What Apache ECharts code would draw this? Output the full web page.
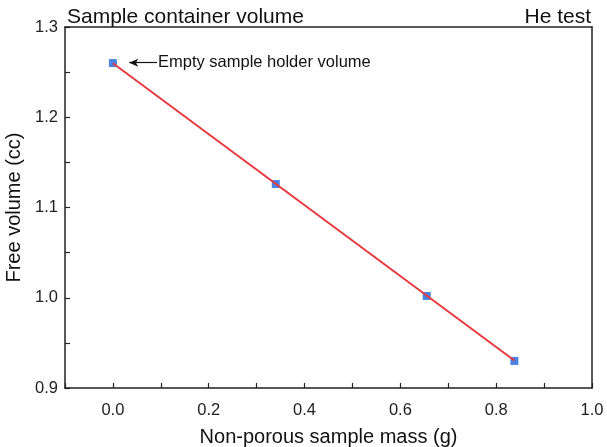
<!DOCTYPE html>
<html><head><meta charset="utf-8">
<script src="https://cdn.jsdelivr.net/npm/echarts@6/dist/echarts.min.js"></script>
<style>html,body{margin:0;padding:0;background:#fff}#c{width:607px;height:447px}</style>
</head><body><div id="c"></div>
<script>
const massX = [0.0, 0.34, 0.655, 0.838];
const freeVol = [1.260, 1.126, 1.002, 0.930];
const fitX = [0.0, 0.838];
const fitY = [1.2598, 0.9305];
const annotX = [0.034, 0.092];
const annotY = 1.2604;
const annotText = 'Empty sample holder volume';
const titleLeft = 'Sample container volume';
const titleRight = 'He test';
const xName = 'Non-porous sample mass (g)';
const yName = 'Free volume (cc)';

const F = 'Liberation Sans, Arial, sans-serif';
const axisCol = '#222';
const chart = echarts.init(document.getElementById('c'), null, {renderer:'canvas'});
chart.setOption({
  animation:false,
  backgroundColor:'#fff',
  title:[
    {text:titleLeft, left:62, top:2, textStyle:{fontFamily:F, fontSize:21, fontWeight:'normal', color:'#111'}},
    {text:titleRight, right:11, top:2, textStyle:{fontFamily:F, fontSize:21, fontWeight:'normal', color:'#111'}}
  ],
  grid:{left:65, top:27, right:15, bottom:59, containLabel:false, outerBoundsMode:'none'},
  xAxis:[{
    type:'value', min:-0.1, max:1.0, interval:0.1,
    name:xName, nameLocation:'middle', nameGap:39,
    nameTextStyle:{fontFamily:F, fontSize:20, color:'#111'},
    axisLine:{show:true, onZero:false, lineStyle:{color:axisCol, width:1.5}},
    axisTick:{show:true, inside:true, length:5, lineStyle:{color:axisCol, width:1.2}},
    axisLabel:{fontFamily:F, fontSize:16.5, color:'#222', margin:14,
      formatter:v=>{const k=Math.round(v*10); return (k>=0 && k%2===0)?(k/10).toFixed(1):'';}},
    splitLine:{show:false}
  },{
    type:'value', position:'top', min:-0.1, max:1.0,
    axisLine:{show:true, onZero:false, lineStyle:{color:axisCol, width:1.5}},
    axisTick:{show:false}, axisLabel:{show:false}, splitLine:{show:false}
  }],
  yAxis:[{
    type:'value', min:0.9, max:1.3, interval:0.1,
    name:yName, nameLocation:'middle', nameGap:35,
    nameTextStyle:{fontFamily:F, fontSize:20, color:'#111'},
    axisLine:{show:true, onZero:false, lineStyle:{color:axisCol, width:1.5}},
    axisTick:{show:true, inside:true, length:5, lineStyle:{color:axisCol, width:1.2}},
    minorTick:{show:true, splitNumber:2, length:5, lineStyle:{color:axisCol, width:1.2}},
    axisLabel:{fontFamily:F, fontSize:16.5, color:'#222', margin:7, formatter:v=>v.toFixed(1)},
    splitLine:{show:false}
  },{
    type:'value', position:'right', min:0.9, max:1.3,
    axisLine:{show:true, onZero:false, lineStyle:{color:axisCol, width:1.5}},
    axisTick:{show:false}, axisLabel:{show:false}, splitLine:{show:false}
  }],
  series:[
    {type:'scatter', data:massX.map((x,i)=>[x,freeVol[i]]), symbol:'rect', symbolSize:8,
     itemStyle:{color:'#1a64dc'}, z:2},
    {type:'line', data:fitX.map((x,i)=>[x,fitY[i]]), showSymbol:false, symbol:'none',
     lineStyle:{color:'#e8393f', width:2}, z:3},
    {type:'line', data:[], z:4,
     markLine:{silent:true, symbol:['arrow','none'], symbolSize:[6,9],
       lineStyle:{color:'#111', width:1.2, type:'solid'},
       label:{show:true, position:'end', distance:1, formatter:annotText, fontFamily:F, fontSize:16.5, color:'#111'},
       data:[[{coord:[annotX[0],annotY]},{coord:[annotX[1],annotY]}]]}}
  ]
});
</script></body></html>
